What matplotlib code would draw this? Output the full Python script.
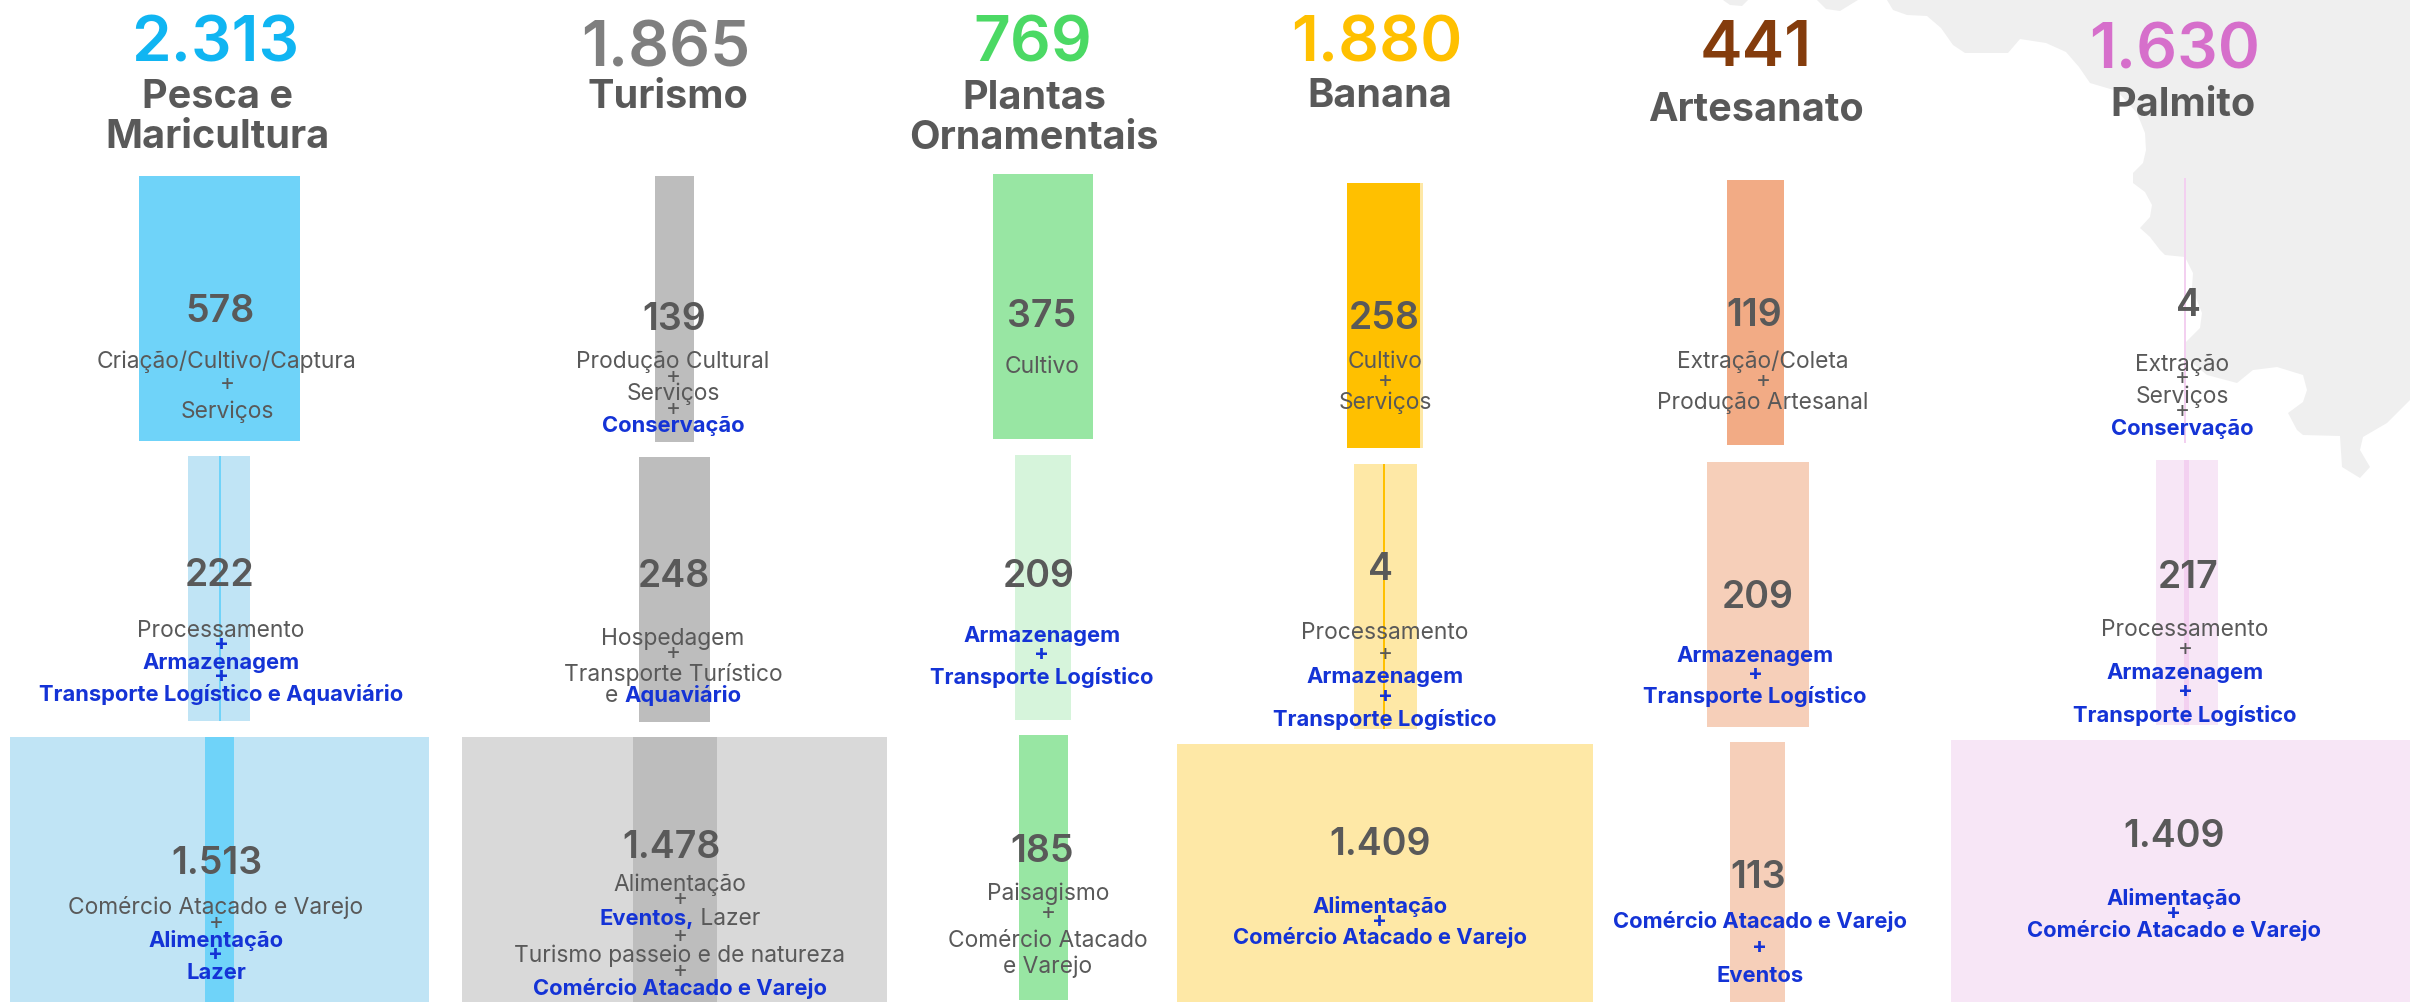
import matplotlib
matplotlib.use("Agg")
from matplotlib import pyplot as plt

# Cadeias produtivas: totals and the three stages of each chain
products = ["Pesca e\nMaricultura", "Turismo", "Plantas\nOrnamentais", "Banana", "Artesanato", "Palmito"]
totals = ["2.313", "1.865", "769", "1.880", "441", "1.630"]
stage1_labels = ["578", "139", "375", "258", "119", "4"]
stage2_labels = ["222", "248", "209", "4", "209", "217"]
stage3_labels = ["1.513", "1.478", "185", "1.409", "113", "1.409"]

# bar sizes (same units as the labels)
stage1_values = [578, 139, 375, 258, 119, 4]
stage2_values = [222, 248, 209, 214, 209, 217]
stage3_values = [1513, 1478, 185, 1409, 113, 1409]

# narrower darker bars drawn on top: (stage, product, value)
overlays = [(0, 3, 247), (1, 0, 7), (1, 3, 4), (1, 5, 17), (2, 0, 105), (2, 1, 293)]

# description lines, "b:" means bold blue
stage1_text = [
    ["Criação/Cultivo/Captura", "+", "Serviços"],
    ["Produção Cultural", "+", "Serviços", "+", "b:Conservação"],
    ["Cultivo"],
    ["Cultivo", "+", "Serviços"],
    ["Extração/Coleta", "+", "Produção Artesanal"],
    ["Extração", "+", "Serviços", "+", "b:Conservação"],
]
stage2_text = [
    ["Processamento", "b:+", "b:Armazenagem", "b:+", "b:Transporte Logístico e Aquaviário"],
    ["Hospedagem", "+", "Transporte Turístico", "e |b:Aquaviário"],
    ["b:Armazenagem", "b:+", "b:Transporte Logístico"],
    ["Processamento", "+", "b:Armazenagem", "b:+", "b:Transporte Logístico"],
    ["b:Armazenagem", "b:+", "b:Transporte Logístico"],
    ["Processamento", "+", "b:Armazenagem", "b:+", "b:Transporte Logístico"],
]
stage3_text = [
    ["Comércio Atacado e Varejo", "+", "b:Alimentação", "b:+", "b:Lazer"],
    ["Alimentação", "+", "b:Eventos,| Lazer", "+", "Turismo passeio e de natureza", "+", "b:Comércio Atacado e Varejo"],
    ["Paisagismo", "+", "Comércio Atacado", "e Varejo"],
    ["b:Alimentação", "b:+", "b:Comércio Atacado e Varejo"],
    ["b:Comércio Atacado e Varejo", "b:+", "b:Eventos"],
    ["b:Alimentação", "b:+", "b:Comércio Atacado e Varejo"],
]

# ---- layout, everything below is in reference pixels ----
WIDTH, HEIGHT = 2410, 1002
px_per_unit = [0.277, 0.287, 0.267, 0.295, 0.485, 0.29]
px_override = {(0, 5): 0.58, (2, 5): 0.326}

bar_x = [
    [219.5, 674.5, 1043, 1385, 1755.5, 2185],
    [219, 674.5, 1043, 1385.5, 1758, 2187],
    [219.5, 674.5, 1043.5, 1385, 1757.5, 2180.5],
]
bar_top = [
    [176, 176, 174, 183, 180, 178],
    [456, 457, 455, 464, 462, 460],
    [737, 737, 735, 744, 742, 740],
]
bar_bottom = [
    [441, 442, 439, 448, 445, 443],
    [721, 722, 720, 729, 727, 725],
    [1002, 1002, 1000, 1002, 1002, 1002],
]
overlay_x = {(0, 3): 1383.5, (1, 0): 220, (1, 3): 1384, (1, 5): 2186.5, (2, 0): 219.5, (2, 1): 675}

dark = ["#6fd3f9", "#bdbdbd", "#98e6a3", "#ffc000", "#f2ab85", "#f3d0f0"]
light = ["#c0e4f5", "#d9d9d9", "#d6f4db", "#fee8a6", "#f6cfb9", "#f7e6f6"]
bar_colors = [
    [dark[0], dark[1], dark[2], light[3], dark[4], dark[5]],
    [light[0], dark[1], light[2], light[3], light[4], light[5]],
    [light[0], light[1], dark[2], light[3], light[4], light[5]],
]
total_colors = ["#10b5f2", "#7f7f7f", "#4bd964", "#ffc000", "#843c0c", "#d66fcb"]
GREY = "#595959"
BLUE = "#1433d6"

total_xy = [(215, 61), (666, 66), (1033, 61), (1377, 61), (1756, 66), (2175, 68)]
title_x = [217, 668, 1034, 1380, 1756, 2183]
title_y = [[108, 148], [108], [109, 149], [107], [121], [116]]

value_x = [
    [220, 674, 1042, 1384, 1754, 2188],
    [220, 674, 1039, 1380, 1758, 2188],
    [217, 671, 1042, 1380, 1758, 2174],
]
value_y = [
    [322, 330, 327, 329, 326, 316],
    [586, 587, 587, 580, 608, 588],
    [874, 858, 862, 855, 888, 847],
]
text_x = [
    [227, 673, 1042, 1385, 1763, 2182],
    [221, 673, 1042, 1385, 1755, 2185],
    [216, 680, 1048, 1380, 1760, 2174],
]
text_y = [
    [[368, 390, 418], [368, 383, 400, 415, 432], [373], [368, 387, 409], [368, 387, 409], [371, 384, 403, 417, 435]],
    [[637, 650, 669, 682, 701], [645, 659, 681, 702], [642, 660, 684], [639, 660, 683, 702, 726], [662, 680, 703], [636, 655, 679, 697, 722]],
    [[914, 929, 947, 960, 979], [891, 905, 925, 942, 962, 977, 995], [900, 919, 947, 973], [913, 927, 944], [928, 953, 982], [905, 919, 937]],
]

# grey map outline behind the chart
map_outline = [
    (1887, 0), (1893, 10), (1907, 15), (1927, 16), (1941, 28), (1953, 45), (1965, 53), (2008, 53), (2020, 39),
    (2046, 43), (2066, 52), (2079, 67), (2090, 83), (2117, 91), (2137, 113), (2145, 133), (2146, 150), (2143, 163),
    (2133, 173), (2133, 183), (2145, 192), (2152, 205), (2150, 217), (2140, 228), (2150, 237), (2160, 250),
    (2165, 255), (2185, 257), (2193, 273), (2192, 288), (2202, 313), (2200, 328), (2185, 343), (2185, 357),
    (2207, 375), (2237, 383), (2253, 370), (2277, 367), (2303, 375), (2307, 390), (2303, 402), (2288, 413),
    (2297, 430), (2303, 435), (2340, 436), (2342, 467), (2360, 478), (2370, 467), (2360, 450), (2363, 437),
    (2387, 423), (2410, 400), (2410, 0),
]
map_bumps = [
    [(1723, 0), (1730, 5), (1742, 6), (1748, 0)],
    [(1817, 0), (1826, 9), (1840, 11), (1853, 3), (1858, 0)],
]

FONT = "Inter"
SIZE_NORMAL = 16.4
SIZE_BOLD = 15.8

fig = plt.figure(figsize=(WIDTH / 100, HEIGHT / 100), dpi=100)
ax = fig.add_axes([0, 0, 1, 1])
ax.set_xlim(0, WIDTH)
ax.set_ylim(HEIGHT, 0)
ax.axis("off")

ax.fill(*zip(*map_outline), color="#efefef", lw=0, zorder=0)
for bump in map_bumps:
    ax.fill(*zip(*bump), color="#efefef", lw=0, zorder=0)

stage_values = [stage1_values, stage2_values, stage3_values]
stage_labels = [stage1_labels, stage2_labels, stage3_labels]
stage_text = [stage1_text, stage2_text, stage3_text]


def write_line(x, y, line):
    # a line can have two parts in different styles, split by |
    parts = line.split("|")
    artists = []
    for part in parts:
        bold = part.startswith("b:")
        artists.append(ax.text(0, y, part[2:] if bold else part, family=FONT, va="baseline", ha="left",
                               size=SIZE_BOLD if bold else SIZE_NORMAL, weight="bold" if bold else "normal",
                               color=BLUE if bold else GREY, zorder=3))
    renderer = fig.canvas.get_renderer()
    # measure with a trailing mark so that spaces at the end of a part count
    widths = []
    for a in artists:
        txt = a.get_text()
        a.set_text(txt + ".")
        w_dot = a.get_window_extent(renderer).width
        a.set_text(".")
        dot = a.get_window_extent(renderer).width
        a.set_text(txt)
        widths.append(w_dot - dot)
    left = x - sum(widths) / 2
    for a, w in zip(artists, widths):
        a.set_x(left)
        left += w


for row in range(3):
    for col in range(6):
        scale = px_override.get((row, col), px_per_unit[col])
        ax.bar(bar_x[row][col], bar_bottom[row][col] - bar_top[row][col], bottom=bar_top[row][col],
               width=stage_values[row][col] * scale, color=bar_colors[row][col], lw=0, zorder=1)

for row, col, value in overlays:
    ax.bar(overlay_x[(row, col)], bar_bottom[row][col] - bar_top[row][col], bottom=bar_top[row][col],
           width=value * px_per_unit[col], color=dark[col], lw=0, zorder=2)

for col in range(6):
    ax.text(total_xy[col][0], total_xy[col][1], totals[col], family=FONT, size=46, weight="semibold",
            color=total_colors[col], ha="center", va="baseline", zorder=3)
    for name, y in zip(products[col].split("\n"), title_y[col]):
        ax.text(title_x[col], y, name, family=FONT, size=28.5, weight="bold", color=GREY,
                ha="center", va="baseline", zorder=3)
    for row in range(3):
        ax.text(value_x[row][col], value_y[row][col], stage_labels[row][col], family=FONT, size=27,
                weight="semibold", color=GREY, ha="center", va="baseline", zorder=3)
        for line, y in zip(stage_text[row][col], text_y[row][col]):
            write_line(text_x[row][col], y, line)

fig.savefig("out.png", dpi=100)
